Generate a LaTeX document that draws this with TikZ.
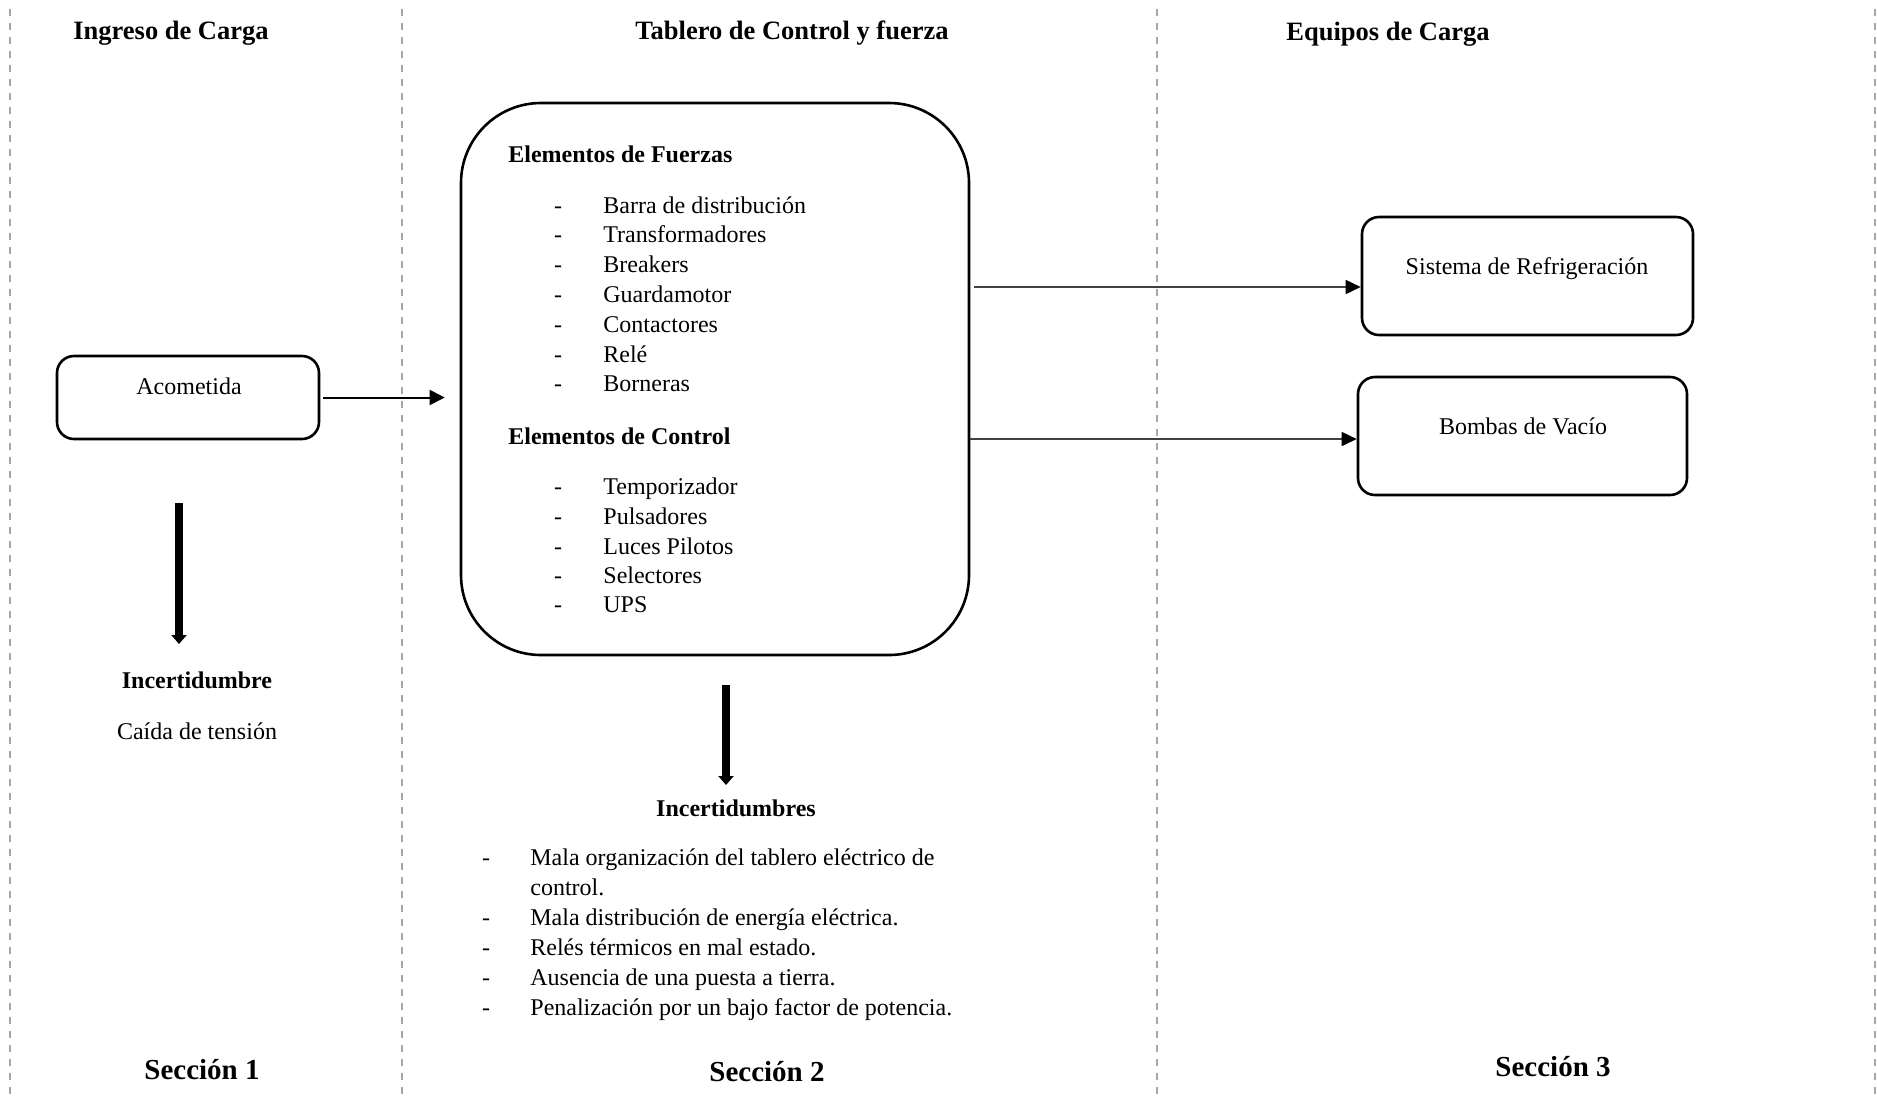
\documentclass[tikz,border=0pt]{standalone}
\usepackage{fontspec}
\setmainfont{Liberation Serif}
\usetikzlibrary{arrows.meta}

\begin{document}
\begin{tikzpicture}[x=0.5pt,y=0.5pt]
                \tikzstyle{every node}+=[inner sep=0pt]
                \tikzstyle{txt}=[font=\fontsize{12}{15}\selectfont, anchor=base]
                \tikzstyle{txtb}=[font=\fontsize{12}{15}\selectfont\bfseries, anchor=base]
                \tikzstyle{tit}=[font=\fontsize{13.25}{16}\selectfont\bfseries, anchor=base]
                \tikzstyle{sec}=[font=\fontsize{14.5}{17}\selectfont\bfseries, anchor=base]
                \tikzstyle{caja}=[draw, line width=1.3pt, rounded corners=8.5pt]
                \tikzstyle{divisor}=[black!35, line width=1pt, dash pattern=on 3.5pt off 3.5pt]
                \tikzstyle{flecha}=[line width=1pt, -{Triangle[length=7.5pt,width=7.5pt]}]
                \tikzstyle{flechagris}=[black!75, line width=0.8pt, -{Triangle[length=7.5pt,width=7pt,black]}]
                \tikzstyle{gruesa}=[line width=3.75pt, -{Triangle[length=4.5pt,width=7.5pt]}]
                \useasboundingbox (0,0) rectangle (1877,-1099);
                % divisiones
                \draw [divisor] (10,-9) -- (10,-1099);
                \draw [divisor] (402,-9) -- (402,-1099);
                \draw [divisor] (1157,-9) -- (1157,-1099);
                \draw [divisor] (1875,-9) -- (1875,-1099);
                % titulos
                \node [tit] (t1) at (171,-39) {Ingreso de Carga};
                \node [tit] (t2) at (792,-39) {Tablero de Control y fuerza};
                \node [tit] (t3) at (1388,-40) {Equipos de Carga};
                \node [sec] (s1) at (202,-1079) {Sección 1};
                \node [sec] (s2) at (767,-1081) {Sección 2};
                \node [sec] (s3) at (1553,-1076) {Sección 3};
                % seccion 1
                \node [caja, minimum width=131pt, minimum height=41.5pt] (acom) at (188,-397.5) {};
                \node [txt] (acomtxt) at (189,-394) {Acometida};
                \coordinate (f1a) at (179,-503);
                \coordinate (f1b) at (179,-644);
                \draw [gruesa] (f1a) -- (f1b);
                \node [txtb] (inc1) at (197,-688) {Incertidumbre};
                \node [txt] (caida) at (197,-739) {Caída de tensión};
                % seccion 2
                \node [draw, line width=1.3pt, rounded corners=40pt, minimum width=254pt, minimum height=276pt] (tablero) at (715,-379) {};
                \draw [flecha, shorten <=1.5pt, shorten >=7.5pt] (acom.east) -- (acom.east -| tablero.west);
                \node [txtb, anchor=base west] (fuerza) at (508,-162) {Elementos de Fuerzas};
                \node [txt] (d1) at (558,-213) {-};      \node [txt, anchor=base west] (e1) at (603,-213) {Barra de distribución};
                \node [txt] (d2) at (558,-242.8) {-};    \node [txt, anchor=base west] (e2) at (603,-242.8) {Transformadores};
                \node [txt] (d3) at (558,-272.6) {-};    \node [txt, anchor=base west] (e3) at (603,-272.6) {Breakers};
                \node [txt] (d4) at (558,-302.4) {-};    \node [txt, anchor=base west] (e4) at (603,-302.4) {Guardamotor};
                \node [txt] (d5) at (558,-332.2) {-};    \node [txt, anchor=base west] (e5) at (603,-332.2) {Contactores};
                \node [txt] (d6) at (558,-362) {-};      \node [txt, anchor=base west] (e6) at (603,-362) {Relé};
                \node [txt] (d7) at (558,-391.8) {-};    \node [txt, anchor=base west] (e7) at (603,-391.8) {Borneras};
                \node [txtb, anchor=base west] (control) at (508,-444) {Elementos de Control};
                \node [txt] (d8) at (558,-494) {-};      \node [txt, anchor=base west] (e8) at (603,-494) {Temporizador};
                \node [txt] (d9) at (558,-524) {-};      \node [txt, anchor=base west] (e9) at (603,-524) {Pulsadores};
                \node [txt] (d10) at (558,-554) {-};     \node [txt, anchor=base west] (e10) at (603,-554) {Luces Pilotos};
                \node [txt] (d11) at (558,-583) {-};     \node [txt, anchor=base west] (e11) at (603,-583) {Selectores};
                \node [txt] (d12) at (558,-612) {-};     \node [txt, anchor=base west] (e12) at (603,-612) {UPS};
                \coordinate (f2a) at (726,-685);
                \coordinate (f2b) at (726,-785);
                \draw [gruesa] (f2a) -- (f2b);
                \node [txtb] (inc2) at (736,-816) {Incertidumbres};
                \node [txt] (m1) at (486,-865) {-};      \node [txt, anchor=base west] (i1) at (530,-865) {Mala organización del tablero eléctrico de};
                \node [txt, anchor=base west] (i1b) at (530,-895) {control.};
                \node [txt] (m2) at (486,-925) {-};      \node [txt, anchor=base west] (i2) at (530,-925) {Mala distribución de energía eléctrica.};
                \node [txt] (m3) at (486,-955) {-};      \node [txt, anchor=base west] (i3) at (530,-955) {Relés térmicos en mal estado.};
                \node [txt] (m4) at (486,-985) {-};      \node [txt, anchor=base west] (i4) at (530,-985) {Ausencia de una puesta a tierra.};
                \node [txt] (m5) at (486,-1015) {-};     \node [txt, anchor=base west] (i5) at (530,-1015) {Penalización por un bajo factor de potencia.};
                % seccion 3
                \node [caja, minimum width=165.5pt, minimum height=59pt] (sist) at (1527.5,-276) {};
                \node [txt] (sisttxt) at (1527,-274) {Sistema de Refrigeración};
                \node [caja, minimum width=164.5pt, minimum height=59pt] (bomb) at (1522.5,-436) {};
                \node [txt] (bombtxt) at (1523,-434) {Bombas de Vacío};
                \coordinate (c1) at ([yshift=-5.5pt]sist.west);
                \coordinate (c2) at ([yshift=-1.5pt]bomb.west);
                \draw [flechagris, shorten <=2pt] (c1 -| tablero.east) -- (c1);
                \draw [flechagris] (c2 -| tablero.east) -- (c2);
            \end{tikzpicture}
\end{document}
